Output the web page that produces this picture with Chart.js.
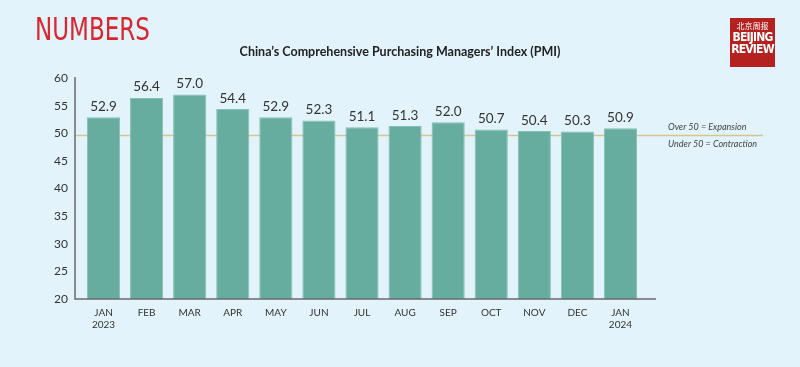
<!DOCTYPE html>
<html>
<head>
<meta charset="utf-8">
<script src="https://cdn.jsdelivr.net/npm/chart.js@4"></script>
<style>
  html, body { margin: 0; padding: 0; background: #e2f3fb; }
  #wrap { position: relative; width: 800px; height: 367px; }
  #numbers {
    position: absolute; left: 35px; top: 10px;
    font-family: "DejaVu Sans Condensed", "DejaVu Sans", sans-serif;
    font-size: 32px; color: #d9262e;
    transform: scaleX(0.8); transform-origin: left top;
  }
  #logo {
    position: absolute; left: 730px; top: 18px; width: 45px; height: 49px;
    background: #b4211f; color: #fff; text-align: center;
    font-family: "DejaVu Sans Condensed", sans-serif; font-weight: bold;
  }
  #logo .cn { font-size: 8px; font-weight: normal; margin-top: 2px; line-height: 11px; font-family: "Noto Sans CJK SC", sans-serif; }
  #logo .en { font-size: 12px; line-height: 12px; letter-spacing: -0.8px; }
</style>
</head>
<body>
<div id="wrap">
  <canvas id="chart" width="800" height="367"></canvas>
  <div id="numbers">NUMBERS</div>
  <div id="logo"><div class="cn">北京周报</div><div class="en">BEIJING<br>REVIEW</div></div>
</div>
<script>
// =======================
// DATA
// =======================

const months = [["JAN", "2023"], "FEB", "MAR", "APR", "MAY", "JUN", "JUL", "AUG", "SEP", "OCT", "NOV", "DEC", ["JAN", "2024"]];
const pmi = [52.9, 56.4, 57.0, 54.4, 52.9, 52.3, 51.1, 51.3, 52.0, 50.7, 50.4, 50.3, 50.9];
const threshold = 49.6;
const thresholdNotes = ["Over 50 = Expansion", "Under 50 = Contraction"];
const title = "China\u2019s Comprehensive Purchasing Managers\u2019 Index (PMI)";

const textColor = "#333";
const axisColor = "#6b6b6b";

// =======================
// PLUGINS
// =======================

// title, axes lines, the 50 line with its notes, value labels
const extras = {
  id: "extras",
  beforeDatasetsDraw(chart) {
    const ctx = chart.ctx;
    const area = chart.chartArea;
    const y = chart.scales.y;
    let ly = y.getPixelForValue(threshold);
    ctx.save();
    ctx.fillStyle = "#222";
    ctx.font = "bold 12.5px Lato, sans-serif";
    ctx.textAlign = "center";
    ctx.textBaseline = "middle";
    ctx.fillText(title, chart.width / 2, 52);

    ctx.strokeStyle = "#d8c394";
    ctx.lineWidth = 1.5;
    ctx.beginPath();
    ctx.moveTo(area.left - 7, ly);
    ctx.lineTo(chart.width - 37, ly);
    ctx.stroke();
    ctx.restore();
  },
  afterDatasetsDraw(chart) {
    const ctx = chart.ctx;
    const area = chart.chartArea;
    const y = chart.scales.y;
    let ly = y.getPixelForValue(threshold);
    ctx.save();
    ctx.strokeStyle = axisColor;
    ctx.lineWidth = 1.5;
    ctx.beginPath();
    ctx.moveTo(area.left - 7, y.getPixelForValue(60) - 1);
    ctx.lineTo(area.left - 7, area.bottom);
    ctx.lineTo(area.right + 14, area.bottom);
    ctx.stroke();

    ctx.fillStyle = "#444";
    ctx.font = "italic 9px Lato, sans-serif";
    ctx.textBaseline = "middle";
    ctx.fillText(thresholdNotes[0], area.right + 26, ly - 8);
    ctx.fillText(thresholdNotes[1], area.right + 26, ly + 9);

    // value labels
    const meta = chart.getDatasetMeta(0);
    ctx.fillStyle = textColor;
    ctx.font = "13.5px Lato, sans-serif";
    ctx.textAlign = "center";
    ctx.textBaseline = "bottom";
    meta.data.forEach((bar, i) => {
      ctx.fillText(pmi[i].toFixed(1), bar.x, bar.y - 4);
    });
    ctx.restore();
  }
};

// =======================
// CHART
// =======================

const ctx = document.getElementById("chart").getContext("2d");

new Chart(ctx, {
  type: "bar",
  data: {
    labels: months,
    datasets: [{
      data: pmi,
      backgroundColor: "#67ad9f",
      borderColor: "#86c0b3",
      borderWidth: 1,
      barPercentage: 0.77,
      categoryPercentage: 1
    }]
  },
  options: {
    responsive: false,
    animation: false,
    layout: { padding: { left: 0, right: 158, top: 78, bottom: 28 } },
    plugins: {
      legend: { display: false },
      tooltip: { enabled: false }
    },
    scales: {
      x: {
        grid: { display: false, drawTicks: false },
        border: { display: false },
        ticks: {
          color: textColor,
          padding: 8,
          maxRotation: 0,
          autoSkip: false,
          font: { family: "Lato, sans-serif", size: 10 }
        }
      },
      y: {
        min: 20,
        max: 60,
        afterFit(scale) { scale.width = 82; },
        grid: { display: false, drawTicks: false },
        border: { display: false },
        ticks: {
          stepSize: 5,
          color: textColor,
          padding: 14,
          font: { family: "Lato, sans-serif", size: 12 }
        }
      }
    }
  },
  plugins: [extras]
});
</script>
</body>
</html>
